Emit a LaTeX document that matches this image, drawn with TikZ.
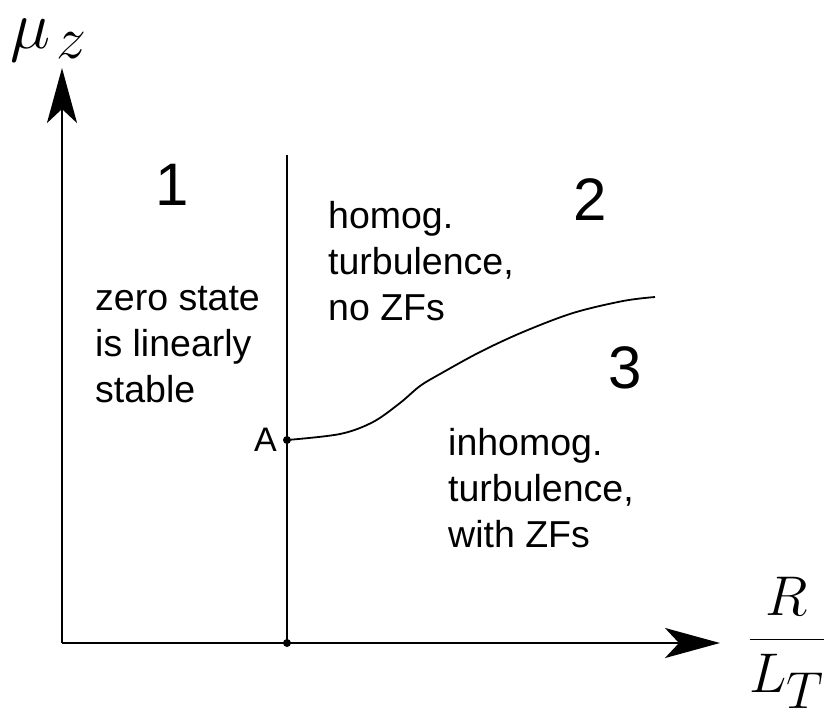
\documentclass[tikz,border=0pt]{standalone}
\usepackage{fix-cm}
\usepackage{fontspec}
\setmainfont{Liberation Sans}
\usepackage{amsmath}
\usepackage{tikz}
\usetikzlibrary{arrows.meta,positioning,calc}
\DeclareMathSizes{68}{68}{60}{46}
\DeclareMathSizes{56}{56}{52}{40}

\begin{document}
\begin{tikzpicture}[
  x=1pt, y=-1pt,
  axis/.style={line width=2.8pt, -{Stealth[length=55pt, width=30pt, inset=14pt]}},
  bound/.style={line width=1.8pt},
  curve/.style={line width=1.8pt, line join=round},
  dot/.style={circle, fill=black, inner sep=0pt, minimum size=8pt},
  region/.style={font=\fontsize{60}{64}\selectfont, inner sep=0pt},
  txt/.style={font=\fontsize{37.5}{46}\selectfont, align=left, anchor=base west, inner sep=0pt},
  lbl/.style={inner sep=0pt}
]
\useasboundingbox (0,0) rectangle (835,710);
% axes and boundaries
\coordinate (O) at (62,643);
\coordinate (ytip) at (62,68);
\coordinate (xtip) at (720,643);
\coordinate (top) at (287,155);
\node[dot] (B) at (287,643) {};
\node[dot] (A) at (287,440) {};
\draw[axis] (O) -- (ytip);
\draw[axis] (O) -- (xtip);
\draw[bound] (B.center) -- (top);
\draw[curve] plot[smooth, tension=0.55] coordinates {(A.center) (340,434) (373,422) (400,403) (420,386) (440,374) (480,352) (523,332) (573,313) (623,301) (655,297)};
% axis labels
\node[lbl, font=\fontsize{68}{72}\selectfont, anchor=base west] (muz) at (10,48) {$\mu_{\mkern2mu z}$};
\node[lbl, font=\fontsize{56}{60}\selectfont] (RLT) at (787,643) {$\dfrac{R}{L_T}$};
\node[font=\fontsize{34}{38}\selectfont, anchor=east, inner sep=0pt] (Alab) at (277,440) {A};
% region numbers
\node[region] (n1) at (172,185) {1};
\node[region] (n2) at (590,200) {2};
\node[region] (n3) at (625,368) {3};
% region descriptions (anchored at the baseline of the last line)
\node[txt] (zero) at (95,402) {zero state\\is linearly\\stable};
\node[txt] (homog) at (328,320) {homog.\\turbulence,\\no ZFs};
\node[txt] (inhomog) at (448,547) {inhomog.\\turbulence,\\with ZFs};
\end{tikzpicture}
\end{document}
